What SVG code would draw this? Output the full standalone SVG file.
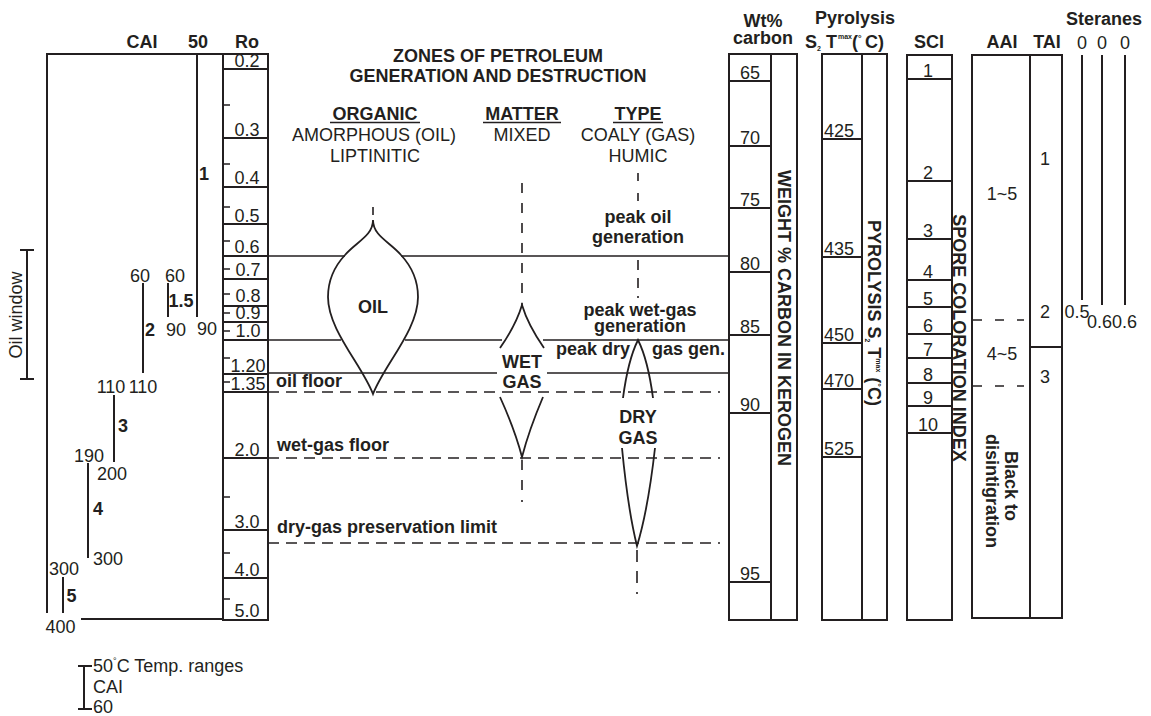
<svg xmlns="http://www.w3.org/2000/svg" width="1151" height="716" viewBox="0 0 1151 716">
<style>
text{font-family:"Liberation Sans",Arial,sans-serif;font-size:18px;fill:#231f20}
.b{font-weight:bold}
.m{text-anchor:middle}
.s7{font-size:7px}
.s9{font-size:9px}
.fr{fill:none;stroke:#231f20;stroke-width:2}
.ln{fill:none;stroke:#231f20;stroke-width:1.6}
.dl{fill:none;stroke:#231f20;stroke-width:1.6;stroke-dasharray:11 7}
.vd{fill:none;stroke:#231f20;stroke-width:1.6;stroke-dasharray:10 10}
.sh{fill:none;stroke:#231f20;stroke-width:1.8}
</style>
<rect width="1151" height="716" fill="#fff"/>

<g id="oil-window">
<path class="fr" d="M27 250V379M20 250H34M20 379H34" stroke-width="2.5"/>
<text transform="translate(21.5,315) rotate(-90)" class="m">Oil window</text>
</g>

<g id="cai-column">
<path class="fr" d="M47 613V54H223M197 54V317M81 619H223"/>
<path class="fr" d="M143 283V373M168 283V317M114 395V462M88 463V558M63 577V613"/>
<text x="142" y="48" class="b m">CAI</text>
<text x="198" y="48" class="b m">50</text>
<text x="204" y="180" class="b m">1</text>
<text x="140" y="282" class="m">60</text>
<text x="175" y="282" class="m">60</text>
<text x="181" y="307" class="b m">1.5</text>
<text x="150" y="336" class="b m">2</text>
<text x="176" y="336" class="m">90</text>
<text x="207" y="335" class="m">90</text>
<text x="111" y="393" class="m">110</text>
<text x="143" y="393" class="m">110</text>
<text x="123" y="432" class="b m">3</text>
<text x="89" y="462" class="m">190</text>
<text x="112" y="480" class="m">200</text>
<text x="98" y="515" class="b m">4</text>
<text x="108" y="565" class="m">300</text>
<text x="64" y="575" class="m">300</text>
<text x="71.5" y="602" class="b m">5</text>
<text x="60.5" y="633" class="m">400</text>
</g>

<g id="ro-column">
<rect class="fr" x="223" y="54" width="45" height="566"/>
<path class="fr" d="M223 69H268M223 138H268M223 187H268M223 224H268M223 256H268M223 279H268M223 306H268M223 322H268M223 340H268M223 374H268M223 392H268M223 458H268M223 530H268M223 578H268"/>
<path class="ln" d="M223 105h7M223 164h7M223 207h7M223 241h7M223 269h7M223 294h7M223 313h7M223 331h7M223 358h7M223 382h7M223 497h7M223 553h7M223 599h7"/>
<text x="247" y="48" class="b m">Ro</text>
<text x="247" y="67" class="m">0.2</text>
<text x="247" y="136" class="m">0.3</text>
<text x="247" y="184" class="m">0.4</text>
<text x="247" y="222" class="m">0.5</text>
<text x="247" y="253" class="m">0.6</text>
<text x="248" y="276" class="m">0.7</text>
<text x="248" y="302" class="m">0.8</text>
<text x="248" y="319" class="m">0.9</text>
<text x="248" y="337" class="m">1.0</text>
<text x="248" y="372" class="m">1.20</text>
<text x="248" y="390" class="m">1.35</text>
<text x="247" y="456" class="m">2.0</text>
<text x="247" y="528" class="m">3.0</text>
<text x="247" y="576" class="m">4.0</text>
<text x="247" y="617" class="m">5.0</text>
</g>

<g id="zones-header">
<text x="498" y="62" class="b m">ZONES OF PETROLEUM</text>
<text x="498" y="82" class="b m">GENERATION AND DESTRUCTION</text>
<text x="375" y="120" class="b m">ORGANIC</text>
<text x="522" y="120" class="b m">MATTER</text>
<text x="638" y="120" class="b m">TYPE</text>
<path class="ln" d="M330 122.5H420M483 122.5H561M613 122.5H663"/>
<text x="374" y="141" class="m">AMORPHOUS (OIL)</text>
<text x="375" y="162" class="m">LIPTINITIC</text>
<text x="522" y="141" class="m">MIXED</text>
<text x="638" y="141" class="m">COALY (GAS)</text>
<text x="638" y="162" class="m">HUMIC</text>
</g>

<g id="connectors">
<path class="ln" d="M268 256H345M401 256H729M268 340H341M405 340H502M543 340H729M268 373H497M547 373H729"/>
<path class="dl" d="M268 392H720M268 458H720M268 543H720"/>
<path class="vd" d="M522 183V305M522 460V502"/>
<path class="ln" stroke-dasharray="8 12" d="M638 173V201"/>
<path class="ln" stroke-dasharray="10 8" d="M638 260V298"/>
<path class="ln" stroke-dasharray="12 9" d="M637 550V594"/>
<path class="ln" d="M373 207V215"/>
<text x="638" y="223" class="b m">peak oil</text>
<text x="638" y="243" class="b m">generation</text>
<text x="640" y="316" class="b m">peak wet-gas</text>
<text x="640" y="332" class="b m">generation</text>
<text x="630" y="355" class="b" text-anchor="end">peak dry</text>
<text x="652" y="355" class="b">gas gen.</text>
<text x="276" y="387" class="b">oil floor</text>
<text x="277" y="451" class="b">wet-gas floor</text>
<text x="277" y="533" class="b">dry-gas preservation limit</text>
</g>

<g id="oil-zone">
<path class="sh" d="M373 220C373 236 356 242 345 255C333 268 328 283 328 297C328 330 362 365 373 394C384 365 418 330 418 297C418 283 413 268 401 255C390 242 373 236 373 220Z"/>
<text x="373" y="313" class="b m">OIL</text>
</g>

<g id="wet-gas-zone">
<path class="sh" d="M500 348Q516 325 522 305Q528 325 544 348M500 397Q515 430 522 457Q529 430 543 397"/>
<text x="522" y="368" class="b m">WET</text>
<text x="522" y="388" class="b m">GAS</text>
</g>

<g id="dry-gas-zone">
<path class="sh" d="M623 398Q628 360 638 340Q648 360 653 398M622 448Q628 510 637 546Q648 510 655 448"/>
<text x="638" y="423" class="b m">DRY</text>
<text x="638" y="444" class="b m">GAS</text>
</g>

<g id="wt-carbon">
<rect class="fr" x="729" y="54" width="68" height="566"/>
<path class="fr" d="M771 54V620M729 81H771M729 146H771M729 208H771M729 272H771M729 335H771M729 413H771M729 582H771"/>
<text x="763" y="27" class="b m">Wt%</text>
<text x="763" y="44" class="b m">carbon</text>
<text x="750" y="79" class="m">65</text>
<text x="750" y="144" class="m">70</text>
<text x="750" y="206" class="m">75</text>
<text x="750" y="270" class="m">80</text>
<text x="750" y="333" class="m">85</text>
<text x="750" y="411" class="m">90</text>
<text x="750" y="580" class="m">95</text>
<text transform="translate(777.5,318) rotate(90)" class="b m">WEIGHT % CARBON IN KEROGEN</text>
</g>

<g id="pyrolysis">
<rect class="fr" x="822" y="54" width="65" height="566"/>
<path class="fr" d="M862 54V620M822 139H862M822 257H862M822 343H862M822 389H862M822 457H862"/>
<text x="855" y="24" class="b m">Pyrolysis</text>
<text x="805" y="48" class="b">S<tspan class="s7" x="817" y="51">2</tspan><tspan x="826" y="48">T</tspan><tspan class="s7" x="838" y="39">max</tspan><tspan x="852" y="48">(</tspan><tspan class="s9" x="858" y="41">°</tspan><tspan x="865" y="48">C)</tspan></text>
<text x="824" y="137">425</text>
<text x="824" y="255">435</text>
<text x="824" y="341">450</text>
<text x="824" y="387">470</text>
<text x="824" y="455">525</text>
<text transform="translate(868,313) rotate(90)" class="b m">PYROLYSIS S<tspan class="s7" dy="3">2</tspan><tspan dy="-3"> T</tspan><tspan class="s7" dy="-8">max</tspan><tspan dy="8"> (</tspan><tspan class="s9" dy="-7">°</tspan><tspan dy="7">C)</tspan></text>
</g>

<g id="sci">
<rect class="fr" x="907" y="55" width="45" height="565"/>
<path class="fr" d="M907 79H952M907 181H952M907 239H952M907 280H952M907 307H952M907 334H952M907 358H952M907 383H952M907 406H952M907 433H952"/>
<text x="929" y="48" class="b m">SCI</text>
<text x="928" y="77" class="m">1</text>
<text x="928" y="179" class="m">2</text>
<text x="928" y="237" class="m">3</text>
<text x="928" y="278" class="m">4</text>
<text x="928" y="305" class="m">5</text>
<text x="928" y="332" class="m">6</text>
<text x="928" y="356" class="m">7</text>
<text x="928" y="381" class="m">8</text>
<text x="928" y="404" class="m">9</text>
<text x="928" y="431" class="m">10</text>
<text transform="translate(953,338) rotate(90)" class="b m">SPORE COLORATION INDEX</text>
</g>

<g id="aai">
<rect class="fr" x="972" y="55" width="58" height="563"/>
<path class="ln" stroke-dasharray="9 13" d="M973 320H1024M973 386H1024"/>
<text x="1002" y="48" class="b m">AAI</text>
<text x="1002" y="200" class="m">1~5</text>
<text x="1002" y="360" class="m">4~5</text>
<text transform="translate(1004.5,486) rotate(90)" class="b m">Black to</text>
<text transform="translate(986,491) rotate(90)" class="b m">disintigration</text>
</g>

<g id="tai">
<rect class="fr" x="1030" y="55" width="32" height="563"/>
<path class="fr" d="M1030 347H1062"/>
<text x="1047" y="48" class="b m">TAI</text>
<text x="1045" y="165" class="m">1</text>
<text x="1045" y="318" class="m">2</text>
<text x="1045" y="383" class="m">3</text>
</g>

<g id="steranes">
<path class="fr" d="M1082 55V300M1102 55V305M1125 55V305"/>
<text x="1104" y="25" class="b m">Steranes</text>
<text x="1082" y="49" class="m">0</text>
<text x="1102" y="49" class="m">0</text>
<text x="1125" y="49" class="m">0</text>
<text x="1077" y="318" class="m">0.5</text>
<text x="1112" y="328" class="m">0.60.6</text>
</g>

<g id="legend">
<path class="fr" d="M84 666V709M78 666H92M78 709H92" stroke-width="2.5"/>
<text x="93" y="672">50<tspan class="s9" dy="-8">°</tspan><tspan dy="8">C Temp. ranges</tspan></text>
<text x="93" y="693">CAI</text>
<text x="93" y="713">60</text>
</g>
</svg>
